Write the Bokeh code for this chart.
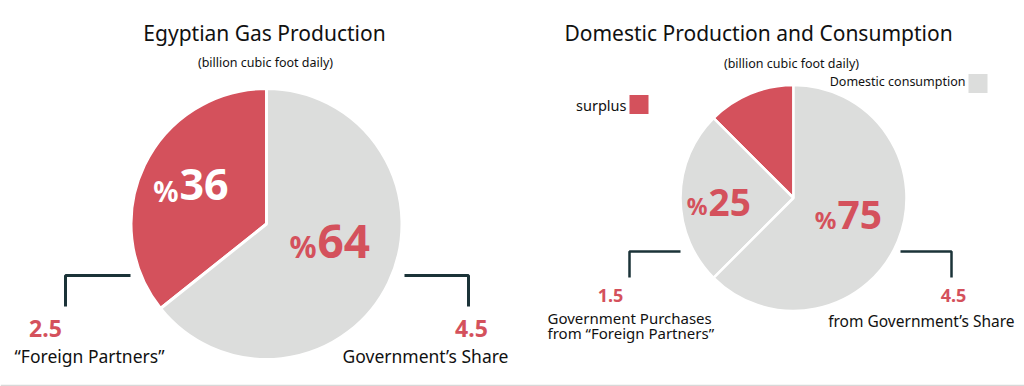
import numpy as np
from bokeh.plotting import figure
from bokeh.models import Range1d
from bokeh.core.properties import value
from bokeh.embed import file_html
from bokeh.resources import INLINE

# ---------------- data ----------------
left_title = "Egyptian Gas Production"
right_title = "Domestic Production and Consumption"
unit_label = "(billion cubic foot daily)"

left_categories = ["“Foreign Partners”", "Government’s Share"]
left_amounts = [2.5, 4.5]
left_pcts = [36, 64]

right_wedge_names = ["surplus", "Government Purchases", "from Government’s Share"]
right_wedge_shares = [12.5, 25.0, 62.5]          # wedge sizes as drawn
right_categories = ["Government Purchases\nfrom “Foreign Partners”", "from Government’s Share"]
right_amounts = [1.5, 4.5]
right_pcts = [25, 75]
legend_labels = ["surplus", "Domestic consumption"]

RED = "#d4515c"
GREY = "#dcdddc"
DARK = "#1b3338"
BLACK = "#111111"
FONT = "Noto Sans"

W, H = 1024, 386


def X(sx):
    return sx


def Y(sy):
    return H - sy


p = figure(width=W, height=H, x_range=Range1d(0, W), y_range=Range1d(0, H),
           output_backend="svg", toolbar_location=None, min_border=0,
           x_axis_location=None, y_axis_location=None)
p.grid.visible = False
p.outline_line_color = None
p.background_fill_color = "white"
p.border_fill_color = "white"


def pie_angles(vals):
    vals = np.asarray(vals, dtype=float)
    fr = np.concatenate([[0.0], np.cumsum(vals)]) / vals.sum()
    return (np.pi / 2 + 2 * np.pi * fr[:-1]).tolist(), (np.pi / 2 + 2 * np.pi * fr[1:]).tolist()


# left pie (anticlockwise from 12 o'clock: red foreign partners, grey government)
ls, le = pie_angles(left_amounts)
p.wedge(x=X(266), y=Y(223.5), radius=135.5, radius_units="screen",
        start_angle=ls, end_angle=le, fill_color=[RED, GREY],
        line_color="white", line_width=3)

# right pie
rs, re_ = pie_angles(right_wedge_shares)
p.wedge(x=X(793), y=Y(197.5), radius=113, radius_units="screen",
        start_angle=rs, end_angle=re_, fill_color=[RED, GREY, GREY],
        line_color="white", line_width=2.5)

# brackets
p.multi_line(xs=[[X(130), X(65), X(65)], [X(404), X(468), X(468)]],
             ys=[[Y(275), Y(275), Y(306)], [Y(275), Y(275), Y(306)]],
             line_color=DARK, line_width=3)
p.multi_line(xs=[[X(680), X(629), X(629)], [X(900), X(951), X(951)]],
             ys=[[Y(251), Y(251), Y(277)], [Y(251), Y(251), Y(277)]],
             line_color=DARK, line_width=2.5)

# bottom rule
p.line(x=[X(0), X(W)], y=[Y(385), Y(385)], line_color="#d8d8d8", line_width=1.5)

# legend squares
p.rect(x=[X(638.5), X(977.5)], y=[Y(104), Y(83)], width=19, height=19,
       width_units="screen", height_units="screen",
       fill_color=[RED, GREY], line_color=None)


def txt(x, y, s, size, color=BLACK, align="center", style="normal"):
    p.text(x=[X(x)], y=[Y(y)], text=[s], text_font=value(FONT),
           text_font_size=f"{size}px", text_color=color, text_align=align,
           text_baseline="middle", text_font_style=style)


# titles
txt(264, 32, left_title, 21)
txt(758, 32, right_title, 21)
txt(265, 62, unit_label, 12.5)
txt(791, 62.5, unit_label, 12.5)

# legend labels
txt(626, 104, legend_labels[0], 14.5, align="right")
txt(965, 81, legend_labels[1], 12.5, align="right")

# percentages: left pie
txt(178, 190, "%", 28, color="white", align="right", style="bold")
txt(179, 184, str(left_pcts[0]), 43, color="white", align="left", style="bold")
txt(316, 245.5, "%", 30, color=RED, align="right", style="bold")
txt(317, 240.5, str(left_pcts[1]), 46, color=RED, align="left", style="bold")

# percentages: right pie
txt(707, 205, "%", 23, color=RED, align="right", style="bold")
txt(708, 201.5, str(right_pcts[0]), 37, color=RED, align="left", style="bold")
txt(836, 219, "%", 24, color=RED, align="right", style="bold")
txt(837, 214, str(right_pcts[1]), 39, color=RED, align="left", style="bold")

# amounts and categories: left
txt(45, 328, str(left_amounts[0]), 23, color=RED, style="bold")
txt(471, 328, str(left_amounts[1]), 23, color=RED, style="bold")
txt(89, 355, left_categories[0], 17.5)
txt(425, 355, left_categories[1], 17.5)

# amounts and categories: right
txt(610, 295, str(right_amounts[0]), 18, color=RED, style="bold")
txt(953, 295, str(right_amounts[1]), 18, color=RED, style="bold")
for i, line in enumerate(right_categories[0].split("\n")):
    txt(547, 317 + 15 * i, line, 15, align="left")
txt(1014, 320, right_categories[1], 15.5, align="right")

open("out.html", "w").write(file_html(p, INLINE))
